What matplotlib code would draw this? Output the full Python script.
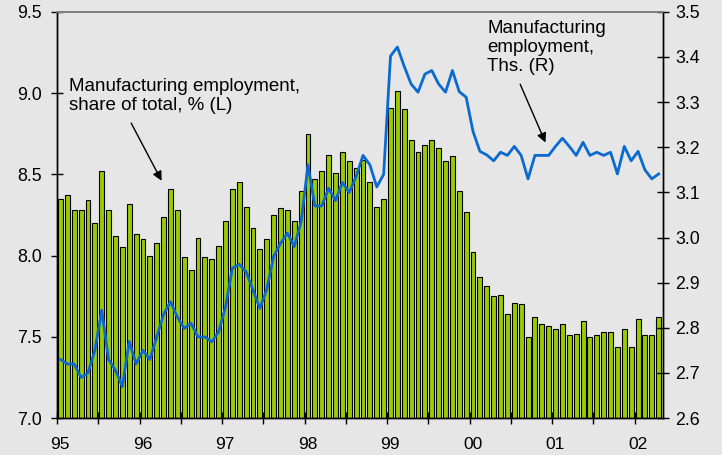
import numpy as np
import matplotlib
matplotlib.use('Agg')
import matplotlib.pyplot as plt
import matplotlib.transforms as mtransforms

plt.rcParams['font.family'] = ['Liberation Sans', 'DejaVu Sans']

# monthly data, Jan 1995 - Apr 2002
share = [8.35, 8.37, 8.28, 8.28, 8.34, 8.20, 8.52, 8.28, 8.12, 8.05, 8.32, 8.13,
         8.10, 8.00, 8.08, 8.24, 8.41, 8.28, 7.99, 7.91, 8.11, 7.99, 7.98, 8.06,
         8.21, 8.41, 8.45, 8.30, 8.17, 8.04, 8.10, 8.25, 8.29, 8.28, 8.21, 8.40,
         8.75, 8.47, 8.52, 8.62, 8.51, 8.64, 8.58, 8.54, 8.59, 8.45, 8.30, 8.35,
         8.91, 9.01, 8.90, 8.71, 8.64, 8.68, 8.71, 8.66, 8.58, 8.61, 8.40, 8.27,
         8.02, 7.87, 7.81, 7.75, 7.76, 7.64, 7.71, 7.70, 7.50, 7.62, 7.58, 7.57,
         7.55, 7.58, 7.51, 7.52, 7.60, 7.50, 7.51, 7.53, 7.53, 7.44, 7.55, 7.44,
         7.61, 7.51, 7.51, 7.62]

employment = [2.730, 2.720, 2.720, 2.690, 2.700, 2.750, 2.839, 2.730, 2.706, 2.670, 2.770, 2.720,
              2.750, 2.730, 2.780, 2.830, 2.858, 2.824, 2.799, 2.810, 2.780, 2.780, 2.769, 2.791,
              2.846, 2.932, 2.941, 2.924, 2.884, 2.843, 2.885, 2.958, 2.987, 3.010, 2.980, 3.035,
              3.161, 3.070, 3.070, 3.109, 3.082, 3.122, 3.100, 3.135, 3.182, 3.161, 3.112, 3.140,
              3.402, 3.422, 3.379, 3.340, 3.322, 3.362, 3.370, 3.340, 3.322, 3.370, 3.323, 3.311,
              3.235, 3.191, 3.183, 3.170, 3.189, 3.182, 3.202, 3.182, 3.130, 3.182, 3.182, 3.182,
              3.202, 3.220, 3.202, 3.182, 3.211, 3.182, 3.189, 3.182, 3.189, 3.141, 3.202, 3.170,
              3.191, 3.150, 3.130, 3.141]

year_labels = ['95', '96', '97', '98', '99', '00', '01', '02']

bg = '#e6e6e6'
x = np.arange(len(share)) + 0.5

fig = plt.figure(figsize=(7.22, 4.55), dpi=100, facecolor=bg)
ax = fig.add_axes([0.079, 0.081, 0.839, 0.893], facecolor=bg)

ax.bar(x, np.array(share) - 7.0, bottom=7.0, width=0.72, color='#99cc00',
       edgecolor='black', linewidth=0.8, zorder=2)
ax.set_ylim(7.0, 9.5)
ax.set_xlim(0, 88.1)
ax.set_yticks(np.arange(7.0, 9.51, 0.5))
ax.set_yticklabels(['%.1f' % v for v in np.arange(7.0, 9.51, 0.5)])

ax.set_xticks(np.arange(0, 85, 12))
ax.set_xticklabels(year_labels)
ax.set_xticks(np.arange(6, 88, 12), minor=True)
ax.tick_params(axis='x', which='both', direction='inout', length=8, width=1, pad=9.5, labelsize=12.5)
ax.tick_params(axis='y', direction='inout', length=8, width=1, pad=7, labelsize=12.8)

# year labels sit a little right of their ticks
shift = mtransforms.ScaledTranslation(3 / 100, 0, fig.dpi_scale_trans)
for lab in ax.get_xticklabels():
    lab.set_transform(lab.get_transform() + shift)

ax2 = ax.twinx()
ax2.plot(x, employment, color='#0a6ad0', linewidth=2.0, zorder=3)
ax2.set_ylim(2.6, 3.5)
ax2.set_yticks(np.arange(2.6, 3.51, 0.1))
ax2.set_yticklabels(['%.1f' % v for v in np.arange(2.6, 3.51, 0.1)])
ax2.tick_params(axis='y', direction='inout', length=8, width=1, pad=5, labelsize=12.8)

for a in (ax, ax2):
    a.spines['top'].set_color('#808080')
    a.spines['top'].set_linewidth(1.2)
    for s in ('left', 'right', 'bottom'):
        a.spines[s].set_color('black')
        a.spines[s].set_linewidth(1.0)

ax.text(1.7, 9.09, 'Manufacturing employment,\nshare of total, % (L)',
        fontsize=13.5, va='top', ha='left', linespacing=1.15, zorder=5)
ax.annotate('', xy=(15.4, 8.445), xytext=(10.6, 8.83),
            arrowprops=dict(arrowstyle='-|>', color='black', lw=1.0,
                            mutation_scale=14), zorder=5)

ax.text(62.6, 9.45, 'Manufacturing\nemployment,\nThs. (R)',
        fontsize=13.5, va='top', ha='left', linespacing=1.15, zorder=5)
ax.annotate('', xy=(71.2, 8.68), xytext=(67.2, 9.07),
            arrowprops=dict(arrowstyle='-|>', color='black', lw=1.0,
                            mutation_scale=14), zorder=5)

fig.savefig('out.png', dpi=100, facecolor=bg)
